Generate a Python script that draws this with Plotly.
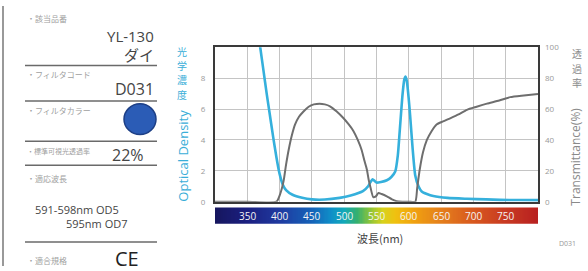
import plotly.graph_objects as go

W, H = 588, 271

# ---- data ----
od_nm = [365, 370, 375, 380, 385, 390, 395, 400, 405, 410, 420, 435, 450, 470, 493, 510, 529, 537, 541, 544,
         547, 550, 557, 566, 573, 579, 583, 586, 590, 593, 595, 597, 600, 602, 606, 610, 615, 620, 628, 638,
         660, 690, 720, 741, 770, 800]
od_val = [11.5, 10.0, 8.5, 7.0, 5.6, 4.2, 2.9, 1.8, 1.1, 0.75, 0.45, 0.25, 0.15, 0.14, 0.25, 0.4, 0.68, 1.0, 1.3, 1.45,
          1.35, 1.24, 1.28, 1.39, 1.6, 1.95, 3.0, 4.6, 6.8, 7.9, 8.1, 7.8, 6.6, 5.6, 3.4, 1.7, 1.0, 0.66, 0.5, 0.37,
          0.25, 0.19, 0.15, 0.12, 0.11, 0.1]

tr_nm = [300, 350, 395, 400, 406, 410, 414, 419, 424, 430, 437, 445, 453, 462, 470, 478, 488, 499, 507, 514,
         521, 527, 531, 535, 538, 541, 545, 549, 553, 558, 566, 574, 581, 590, 600, 610, 613, 617, 622, 628,
         635, 643, 653, 664, 677, 690, 705, 721, 740, 757, 778, 800]
tr_val = [0, 0, 0, 4, 13, 24, 33.5, 43, 50, 55, 58.4, 61.5, 63, 63.5, 63, 61.8, 58.5, 54, 50, 46,
          40, 33.5, 27, 21, 14, 8.7, 3, 3.5, 5.6, 5.0, 3.5, 1.5, 0.4, 0, 0, 0, 9, 21, 32, 40,
          45.5, 50, 52, 54, 56.5, 59.5, 61.5, 63.5, 65.5, 67.7, 68.8, 69.8]

spectrum_ticks = [350, 400, 450, 500, 550, 600, 650, 700, 750]
spectrum_nm = list(range(300, 801, 2))
od_ticks = [0, 2, 4, 6, 8]
tr_ticks = [0, 20, 40, 60, 80, 100]

spectrum_scale = [
    [0.00, "#16165e"], [0.10, "#1b1f80"], [0.20, "#1f3aa0"], [0.30, "#1562b8"],
    [0.36, "#0f8fc8"], [0.40, "#12a8b8"], [0.44, "#35b070"], [0.48, "#8cc43a"],
    [0.52, "#d7d21c"], [0.56, "#f0c010"], [0.62, "#f0a010"], [0.70, "#e47f1c"],
    [0.80, "#d8581e"], [0.90, "#c83a22"], [1.00, "#b82020"],
]

# ---- layout helpers (pixel -> paper) ----
def px(x):
    return x / W

def py(y):
    return 1 - y / H

PL, PR, PT, PB = 215, 538, 43, 204
CT, CB = 210, 227

fig = go.Figure()

fig.add_trace(go.Scatter(x=tr_nm, y=tr_val, mode="lines", yaxis="y2",
                         line=dict(color="#6e6e6e", width=2, shape="spline", smoothing=0.6),
                         hoverinfo="skip", showlegend=False))
fig.add_trace(go.Scatter(x=od_nm, y=od_val, mode="lines",
                         line=dict(color="#35b0dc", width=2.6, shape="spline", smoothing=0.6),
                         hoverinfo="skip", showlegend=False))

fig.add_trace(go.Heatmap(x=spectrum_nm, y=[0, 1], z=[spectrum_nm, spectrum_nm],
                         xaxis="x2", yaxis="y3", colorscale=spectrum_scale,
                         zmin=300, zmax=800, showscale=False, hoverinfo="skip"))

grid = "#c4c4c4"
fig.update_layout(
    width=W, height=H,
    margin=dict(l=0, r=0, t=0, b=0),
    paper_bgcolor="white", plot_bgcolor="white",
    font=dict(family="Open Sans, Noto Sans CJK JP", color="#888"),
    xaxis=dict(domain=[px(PL), px(PR)], range=[300, 800], dtick=50, tick0=300,
               showgrid=True, gridcolor=grid, gridwidth=1, showticklabels=False, ticks="",
               showline=True, linecolor="#3a3a3a", linewidth=2, mirror=True, zeroline=False,
               anchor="y"),
    yaxis=dict(domain=[py(PB), py(PT)], range=[0, 10], tickvals=od_ticks,
               showgrid=True, gridcolor=grid, gridwidth=1, ticks="",
               tickfont=dict(size=8, color="#999"), ticklabelstandoff=6,
               showline=True, linecolor="#3a3a3a", linewidth=2, mirror=True, zeroline=False),
    yaxis2=dict(overlaying="y", side="right", range=[0, 100], tickvals=tr_ticks,
                showgrid=False, ticks="", tickfont=dict(size=8, color="#999"),
                ticklabelstandoff=6, zeroline=False, anchor="x"),
    xaxis2=dict(domain=[px(PL), px(PR)], range=[300, 800], anchor="y3",
                showgrid=False, showticklabels=False, ticks="", zeroline=False),
    yaxis3=dict(domain=[py(CB), py(CT)], range=[0, 1], showgrid=False,
                showticklabels=False, ticks="", zeroline=False),
)

ann = []
for t in spectrum_ticks:
    ann.append(dict(x=t, y=0.5, xref="x2", yref="y3", text=str(t), showarrow=False,
                    font=dict(size=10, color="#f4f4f4", family="Open Sans")))

def txt(x, y, s, size, color="#555", xanchor="left", angle=0, family="Noto Sans CJK JP, Open Sans"):
    ann.append(dict(x=px(x), y=py(y), xref="paper", yref="paper", text=s, showarrow=False,
                    xanchor=xanchor, yanchor="middle", textangle=angle,
                    font=dict(size=size, color=color, family=family)))

def vtxt(x, y0, s, size, color, step):
    for i, ch in enumerate(s):
        txt(x, y0 + i * step, ch, size, color, "center", 0, "Noto Sans CJK JP")

blue = "#3aaed8"
# axis titles
vtxt(182, 47, "光学濃度", 10, blue, 15)
txt(183, 156, "Optical Density", 13, blue, "center", -90, "Open Sans")
vtxt(577, 50, "透過率", 10, "#8a8a8a", 15)
txt(576, 157, "Transmittance(%)", 12, "#8a8a8a", "center", -90, "Open Sans")
txt(380, 242, "波長(nm)", 11, "#444", "center")
txt(567, 248, "D031", 7, "#999", "center", 0, "Open Sans")

# left info panel
lab = "#a0a0a0"
dark = "#454545"
txt(25, 13, "・該当品番", 8, lab)
txt(156, 31, "YL-130", 15, dark, "right", 0, "Open Sans")
txt(156, 51, "ダイ", 15, dark, "right")
txt(25, 71, "・フィルタコード", 8, lab)
txt(156, 87, "D031", 16, dark, "right", 0, "Open Sans")
txt(25, 109, "・フィルタカラー", 8, lab)
txt(25, 151, "・標準可視光透過率", 7, lab)
txt(146, 155, "22%", 16, dark, "right", 0, "Open Sans")
txt(25, 180, "・適応波長", 8, lab)
txt(33, 212, "591-598nm OD5", 11, dark, "left", 0, "Open Sans")
txt(129, 227, "595nm OD7", 11, dark, "right", 0, "Open Sans")
txt(25, 265, "・適合規格", 8, lab)
txt(127, 263, "CE", 20, "#222", "center", 0, "Open Sans")

fig.update_layout(annotations=ann)

shapes = []
for yy in [62, 99, 141, 166, 246]:
    shapes.append(dict(type="line", xref="paper", yref="paper", x0=px(25), x1=px(157),
                       y0=py(yy), y1=py(yy), line=dict(color="#6a6a6a", width=1.5)))
shapes.append(dict(type="line", xref="paper", yref="paper", x0=px(3), x1=px(3),
                   y0=0, y1=1, line=dict(color="#999", width=2)))
shapes.append(dict(type="circle", xref="paper", yref="paper",
                   x0=px(124), x1=px(156), y0=py(134), y1=py(102),
                   fillcolor="#2b5cb6", line=dict(color="#1d3f86", width=1.5)))
fig.update_layout(shapes=shapes)

fig.write_html("out.html", config={"displayModeBar": False},
               post_script="document.body.style.margin='0';document.body.style.overflow='hidden';")
